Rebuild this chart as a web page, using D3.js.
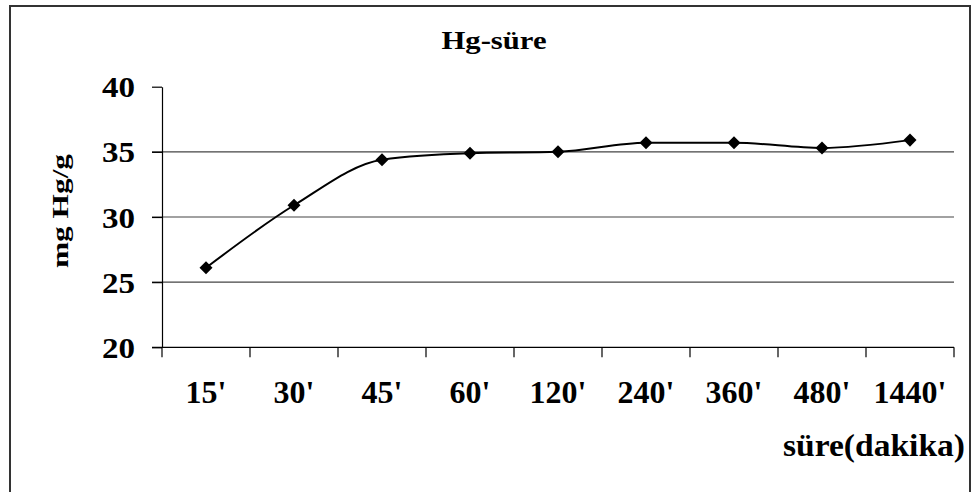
<!DOCTYPE html>
<html>
<head>
<meta charset="utf-8">
<script src="https://cdn.jsdelivr.net/npm/d3@7"></script>
<style>
  html, body { margin: 0; padding: 0; background: #fff; }
  svg { display: block; }
</style>
</head>
<body>
<svg id="chart" width="980" height="492" font-family="'Liberation Serif', 'Times New Roman', Times, serif" font-weight="bold"></svg>
<script>
// Sorption time categories (minutes) and mercury uptake (mg Hg/g)
const categories = ["15'", "30'", "45'", "60'", "120'", "240'", "360'", "480'", "1440'"];
const hgValues = [26.1, 30.9, 34.4, 34.9, 35.0, 35.7, 35.7, 35.3, 35.9];
const yTicks = [20, 25, 30, 35, 40];
const gridValues = [25, 30, 35];

const titleText = "Hg-süre";
const yTitleText = "mg Hg/g";
const xTitleText = "süre(dakika)";

const svg = d3.select("#chart");

// chart frame
svg.append("rect")
  .attr("x", 10).attr("y", 6)
  .attr("width", 960).attr("height", 500)
  .attr("fill", "none").attr("stroke", "#333").attr("stroke-width", 2);

const plot = { left: 162, right: 954, top: 86.7, bottom: 347.3 };

const x = d3.scaleBand().domain(categories).range([plot.left, plot.right]).padding(0);
const y = d3.scaleLinear().domain([20, 40]).range([plot.bottom, plot.top]);
const cx = c => x(c) + x.bandwidth() / 2;

// horizontal gridlines
svg.append("g").selectAll("line")
  .data(gridValues).join("line")
  .attr("x1", plot.left - 10).attr("x2", plot.right)
  .attr("y1", d => y(d)).attr("y2", d => y(d))
  .attr("stroke", "#444").attr("stroke-width", 1.2);

// y axis
const yAxis = svg.append("g")
  .attr("transform", `translate(${plot.left},0)`)
  .call(d3.axisLeft(y).tickValues(yTicks).tickSize(10).tickSizeOuter(0).tickFormat(d3.format("d")));
yAxis.attr("font-family", null).attr("font-size", null);
yAxis.select(".domain").attr("stroke", "#000").attr("stroke-width", 1.2);
yAxis.selectAll(".tick line").attr("stroke", "#000").attr("stroke-width", 1.2);
yAxis.selectAll(".tick text")
  .attr("x", -27).attr("dy", null).attr("y", 10)
  .attr("fill", "#000")
  .style("font-size", "29px")
  .attr("textLength", 33).attr("lengthAdjust", "spacingAndGlyphs");

// x axis with ticks between categories
const xAxis = svg.append("g")
  .attr("transform", `translate(0,${plot.bottom})`);
xAxis.append("line")
  .attr("x1", plot.left - 10).attr("x2", plot.right)
  .attr("stroke", "#000").attr("stroke-width", 1.2);
const boundaries = categories.map(c => x(c)).concat([x(categories[categories.length - 1]) + x.bandwidth()]);
xAxis.selectAll("line.tk").data(boundaries).join("line")
  .attr("class", "tk")
  .attr("x1", d => d).attr("x2", d => d)
  .attr("y1", 0).attr("y2", 10)
  .attr("stroke", "#000").attr("stroke-width", 1.2);
xAxis.selectAll("text").data(categories).join("text")
  .attr("x", d => cx(d))
  .attr("y", 56)
  .attr("text-anchor", "middle")
  .style("font-size", "32px")
  .text(d => d);

// smoothed series line
const line = d3.line()
  .x((d, i) => cx(categories[i]))
  .y(d => y(d))
  .curve(d3.curveMonotoneX);
svg.append("path")
  .datum(hgValues)
  .attr("d", line)
  .attr("fill", "none").attr("stroke", "#000").attr("stroke-width", 2);

// diamond markers
const diamond = d3.symbol().type(d3.symbolSquare).size(85);
svg.append("g").selectAll("path")
  .data(hgValues).join("path")
  .attr("d", diamond)
  .attr("transform", (d, i) => `translate(${cx(categories[i])},${y(d)}) rotate(45)`)
  .attr("fill", "#000");

// titles
svg.append("text")
  .attr("x", 494).attr("y", 49)
  .attr("text-anchor", "middle")
  .style("font-size", "26px")
  .attr("textLength", 105).attr("lengthAdjust", "spacingAndGlyphs")
  .text(titleText);

svg.append("text")
  .attr("transform", "translate(68,211) rotate(-90)")
  .attr("text-anchor", "middle")
  .style("font-size", "24px")
  .attr("textLength", 114).attr("lengthAdjust", "spacingAndGlyphs")
  .text(yTitleText);

svg.append("text")
  .attr("x", 783).attr("y", 456)
  .style("font-size", "32px")
  .attr("textLength", 182).attr("lengthAdjust", "spacingAndGlyphs")
  .text(xTitleText);
</script>
</body>
</html>
